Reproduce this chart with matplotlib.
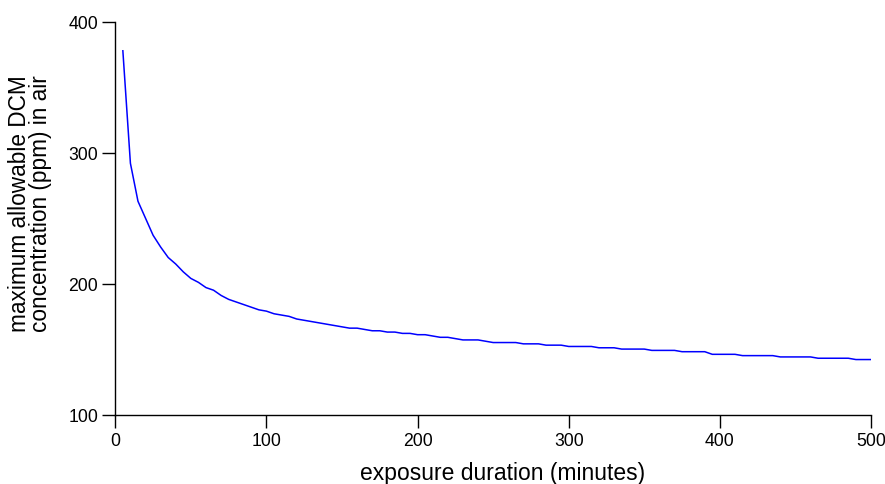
import matplotlib
matplotlib.use("Agg")
from matplotlib import pyplot as plt

# exposure time (minutes) and allowed DCM level (ppm)
minutes = list(range(5, 505, 5))
ppm = [378, 292, 263, 250, 237, 228, 220, 215, 209, 204,
       201, 197, 195, 191, 188, 186, 184, 182, 180, 179,
       177, 176, 175, 173, 172, 171, 170, 169, 168, 167,
       166, 166, 165, 164, 164, 163, 163, 162, 162, 161,
       161, 160, 159, 159, 158, 157, 157, 157, 156, 155,
       155, 155, 155, 154, 154, 154, 153, 153, 153, 152,
       152, 152, 152, 151, 151, 151, 150, 150, 150, 150,
       149, 149, 149, 149, 148, 148, 148, 148, 146, 146,
       146, 146, 145, 145, 145, 145, 145, 144, 144, 144,
       144, 144, 143, 143, 143, 143, 143, 142, 142, 142]

xticks = [0, 100, 200, 300, 400, 500]
yticks = [100, 200, 300, 400]

plt.rcParams['font.family'] = ['Liberation Sans', 'DejaVu Sans']

fig = plt.figure(figsize=(8.85, 4.85), dpi=100)
ax = fig.add_axes([115.3/885, 1-415.5/485, (871-115.3)/885, (415.5-23)/485])

ax.plot(minutes, ppm, color='#0000ff', lw=1.1)

ax.set_xlim(0, 500)
ax.set_ylim(100, 400)
ax.set_xticks(xticks)
ax.set_yticks(yticks)
for s in ['top', 'right']:
    ax.spines[s].set_visible(False)
for s in ['left', 'bottom']:
    ax.spines[s].set_linewidth(1.0)
ax.tick_params(direction='out', length=9.3, width=1.0, labelsize=12.7, pad=3)

fig.text(503/885, 1-480/485, 'exposure duration (minutes)', ha='center', va='baseline', fontsize=16.5)
fig.text(30/885, 1-204/485, 'maximum allowable DCM\nconcentration (ppm) in air',
         ha='center', va='center', rotation=90, fontsize=16.3, linespacing=0.88)

plt.savefig('out.png', dpi=100)
